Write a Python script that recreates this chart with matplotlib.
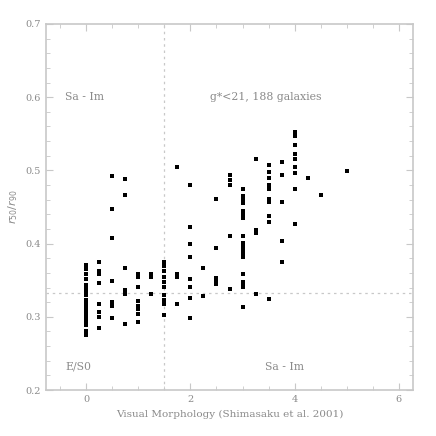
import matplotlib
matplotlib.use("Agg")
import matplotlib.pyplot as plt
from matplotlib.ticker import MultipleLocator

# Visual morphology T values and the concentration values measured at each
morph_T = [0.0, 0.25, 0.5, 0.75, 1.0, 1.25, 1.5, 1.75, 2.0, 2.25, 2.5, 2.75,
           3.0, 3.25, 3.5, 3.75, 4.0, 4.25, 4.5, 5.0]
conc_values = [
    [0.371, 0.358, 0.351, 0.344, 0.340, 0.330, 0.323, 0.316, 0.312, 0.307,
     0.303, 0.298, 0.293, 0.289, 0.280, 0.275, 0.365, 0.335, 0.320, 0.310],
    [0.375, 0.362, 0.358, 0.346, 0.318, 0.307, 0.300, 0.285],
    [0.492, 0.447, 0.408, 0.349, 0.320, 0.315, 0.298],
    [0.488, 0.466, 0.367, 0.336, 0.331, 0.290],
    [0.359, 0.355, 0.341, 0.321, 0.315, 0.310, 0.304, 0.293],
    [0.359, 0.355, 0.331],
    [0.375, 0.369, 0.362, 0.355, 0.348, 0.341, 0.330, 0.323, 0.318, 0.303],
    [0.504, 0.359, 0.355, 0.318],
    [0.480, 0.422, 0.399, 0.382, 0.351, 0.341, 0.326, 0.298],
    [0.367, 0.329],
    [0.461, 0.394, 0.353, 0.348, 0.345],
    [0.494, 0.487, 0.480, 0.410, 0.338],
    [0.474, 0.465, 0.460, 0.455, 0.445, 0.440, 0.435, 0.410, 0.401, 0.395,
     0.390, 0.385, 0.382, 0.359, 0.348, 0.344, 0.341, 0.314],
    [0.516, 0.419, 0.415, 0.331],
    [0.508, 0.498, 0.489, 0.480, 0.475, 0.461, 0.457, 0.438, 0.429, 0.325],
    [0.511, 0.494, 0.457, 0.404, 0.375],
    [0.553, 0.547, 0.535, 0.522, 0.516, 0.504, 0.497, 0.475, 0.427],
    [0.489],
    [0.466],
    [0.499],
]
x_divider = 1.5
y_divider = 0.332

xs, ys = [], []
for t, vals in zip(morph_T, conc_values):
    for v in vals:
        xs.append(t)
        ys.append(v)

plt.rcParams['font.family'] = ['DejaVu Serif']
txt = '#8a8a8a'
frame = '#c8c8c8'

fig = plt.figure(figsize=(4.36, 4.36), dpi=100)
ax = fig.add_axes([46/436, 46/436, 367/436, 366/436])
ax.set_xlim(-0.77, 6.27)
ax.set_ylim(0.2, 0.7)

ax.scatter(xs, ys, s=5.5, marker='s', color='black', linewidths=0, zorder=3)

ax.axvline(x_divider, color=frame, linestyle=(0, (2, 3)), lw=0.9)
ax.axhline(y_divider, color=frame, linestyle=(0, (2, 3)), lw=0.9)

ax.xaxis.set_major_locator(MultipleLocator(2))
ax.xaxis.set_minor_locator(MultipleLocator(0.5))
ax.yaxis.set_major_locator(MultipleLocator(0.1))
ax.yaxis.set_minor_locator(MultipleLocator(0.02))
ax.tick_params(which='both', direction='in', top=True, right=True,
               color=frame, labelcolor=txt, labelsize=7)
ax.tick_params(which='major', length=5)
ax.tick_params(which='minor', length=3)
ax.yaxis.set_major_formatter(matplotlib.ticker.FormatStrFormatter('%.1f'))
for s in ax.spines.values():
    s.set_color(frame)
    s.set_linewidth(1.2)

ax.set_xlabel('Visual Morphology (Shimasaku et al. 2001)', color=txt, fontsize=7.5)
ax.set_ylabel(r'$r_{50}/r_{90}$', color=txt, fontsize=8)

ax.text(0.052, 0.80, 'Sa - Im', transform=ax.transAxes, color=txt, fontsize=7.8, va='center')
ax.text(0.447, 0.80, 'g*<21, 188 galaxies', transform=ax.transAxes, color=txt, fontsize=7.8, va='center')
ax.text(0.052, 0.063, 'E/S0', transform=ax.transAxes, color=txt, fontsize=7.8, va='center')
ax.text(0.597, 0.063, 'Sa - Im', transform=ax.transAxes, color=txt, fontsize=7.8, va='center')

fig.savefig('out.png', dpi=100)
